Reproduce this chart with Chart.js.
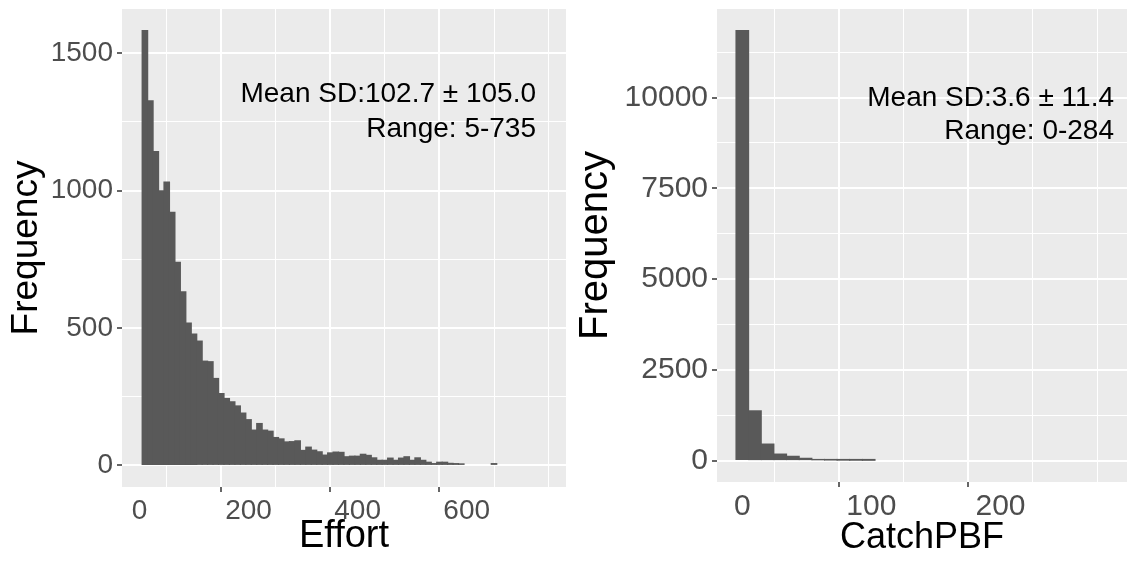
<!DOCTYPE html>
<html>
<head>
<meta charset="utf-8">
<script src="https://cdn.jsdelivr.net/npm/chart.js@4.4.1/dist/chart.umd.min.js"></script>
<style>
  html, body { margin: 0; padding: 0; background: #fff; overflow: hidden; width: 1127px; height: 565px; }
  #graficoEffort { position: absolute; left: 0; top: 0; }
  #graficoCatch { position: absolute; left: 560px; top: 0; }
</style>
</head>
<body>
<canvas id="graficoEffort" width="570" height="565"></canvas>
<canvas id="graficoCatch" width="567" height="565"></canvas>
<script>
// Effort: centros de cada barra (bins de 10, de 5 a 745)
const centrosEffort = [10, 20, 30, 40, 50, 60, 70, 80, 90, 100,
  110, 120, 130, 140, 150, 160, 170, 180, 190, 200,
  210, 220, 230, 240, 250, 260, 270, 280, 290, 300,
  310, 320, 330, 340, 350, 360, 370, 380, 390, 400,
  410, 420, 430, 440, 450, 460, 470, 480, 490, 500,
  510, 520, 530, 540, 550, 560, 570, 580, 590, 600,
  610, 620, 630, 640, 650, 660, 670, 680, 690, 700,
  710, 720, 730, 740];
// frecuencias (las barras invisibles quedan en 0)
const frecEffort = [1582, 1327, 1142, 999, 1031, 921, 739, 631, 518, 478,
  452, 379, 377, 316, 261, 243, 231, 216, 190, 166,
  128, 152, 128, 124, 101, 96, 85, 86, 89, 54,
  66, 55, 49, 37, 45, 48, 47, 31, 33, 33,
  40, 36, 27, 18, 18, 26, 18, 26, 31, 18,
  27, 18, 11, 6, 11, 11, 7, 6, 5, 0,
  0, 0, 0, 0, 6, 0, 0, 0, 0, 0,
  0, 0, 0, 0];

// CatchPBF: 30 bins entre 0 y 284
const centrosCatch = [0, 9.8, 19.6, 29.4, 39.2, 49, 58.8, 68.6, 78.3, 88.1,
  97.9, 107.7, 117.5, 127.3, 137.1, 146.9, 156.7, 166.5, 176.3, 186.1,
  195.9, 205.7, 215.4, 225.2, 235, 244.8, 254.6, 264.4, 274.2, 284];
const frecCatch = [11850, 1368, 452, 176, 115, 60, 22, 16, 12, 10,
  8, 0, 0, 0, 0, 0, 0, 0, 0, 0,
  0, 0, 0, 0, 0, 0, 0, 0, 0, 0];

// marcas de los ejes (mayores con etiqueta, menores solo rejilla)
const ticksXEffort = [0, 100, 200, 300, 400, 500, 600, 700];
const mayoresXEffort = [0, 200, 400, 600];
const ticksYEffort = [0, 250, 500, 750, 1000, 1250, 1500];
const mayoresYEffort = [0, 500, 1000, 1500];

const ticksXCatch = [0, 50, 100, 150, 200, 250];
const mayoresXCatch = [0, 100, 200];
const ticksYCatch = [0, 1250, 2500, 3750, 5000, 6250, 7500, 8750, 10000, 11250];
const mayoresYCatch = [0, 2500, 5000, 7500, 10000];

const textoEffort = ['Mean SD:102.7 ± 105.0', 'Range: 5-735'];
const textoCatch = ['Mean SD:3.6 ± 11.4', 'Range: 0-284'];

const fuente = '"Liberation Sans", Arial, sans-serif';

const panelGris = {
  id: 'panelGris',
  beforeDraw(chart) {
    const { ctx, chartArea: a } = chart;
    ctx.save();
    ctx.fillStyle = '#EBEBEB';
    ctx.fillRect(a.left, a.top, a.width, a.height);
    ctx.restore();
  },
  afterDraw(chart, args, opts) {
    const { ctx, chartArea: a } = chart;
    ctx.save();
    ctx.font = opts.tam + 'px ' + fuente;
    ctx.fillStyle = '#000';
    ctx.textAlign = 'right';
    ctx.textBaseline = 'middle';
    opts.lineas.forEach((t, i) => {
      ctx.fillText(t, a.right - opts.margen, a.top + opts.y0 + i * opts.dy);
    });
    ctx.restore();
  }
};

function esMayor(c, mayores) {
  return c.tick ? mayores.includes(c.tick.value) : false;
}

function ejeLineal(ticks, mayores, extra) {
  return Object.assign({
    type: 'linear',
    offset: false,
    afterBuildTicks: s => { s.ticks = ticks.map(v => ({ value: v })); },
    border: { display: false },
    grid: {
      color: '#FFFFFF',
      lineWidth: c => esMayor(c, mayores) ? 2 : 1,
      tickColor: c => esMayor(c, mayores) ? '#333333' : 'rgba(0,0,0,0)',
      tickWidth: 1.5,
      tickLength: 5
    }
  }, extra);
}

function sinRelleno(s) {
  s.paddingTop = 0;
  s.paddingBottom = 0;
  s.paddingLeft = 0;
  s.paddingRight = 0;
}

function histograma(id, centros, frec, cfg) {
  const ctx = document.getElementById(id).getContext('2d');
  return new Chart(ctx, {
    type: 'bar',
    data: {
      datasets: [{
        data: centros.map((c, i) => ({ x: c, y: frec[i] })),
        // las barras vacias no se pintan (si no, el inflado deja una raya)
        backgroundColor: c => (c.raw && c.raw.y > 0) ? '#595959' : 'rgba(0,0,0,0)',
        borderWidth: 0,
        inflateAmount: 0.6,
        barPercentage: 1,
        categoryPercentage: 1
      }]
    },
    options: {
      responsive: false,
      animation: false,
      devicePixelRatio: 1,
      layout: { padding: cfg.padding },
      plugins: {
        legend: { display: false },
        tooltip: { enabled: false },
        panelGris: cfg.texto
      },
      scales: {
        x: ejeLineal(cfg.ticksX, cfg.mayoresX, {
          min: cfg.xMin, max: cfg.xMax,
          afterFit: s => { s.height = cfg.altoX; sinRelleno(s); },
          ticks: {
            autoSkip: false, maxRotation: 0, padding: 2,
            color: '#4D4D4D', font: { family: fuente, size: cfg.tamTick },
            callback: v => cfg.mayoresX.includes(v) ? v : ''
          },
          title: {
            display: true, text: cfg.tituloX, color: '#000',
            font: { family: fuente, size: cfg.tamTituloX },
            padding: { top: 0, bottom: cfg.padTituloX }
          }
        }),
        y: ejeLineal(cfg.ticksY, cfg.mayoresY, {
          min: cfg.yMin, max: cfg.yMax,
          afterFit: s => { s.width = cfg.anchoY; sinRelleno(s); },
          ticks: {
            autoSkip: false, padding: 4,
            color: '#4D4D4D', font: { family: fuente, size: cfg.tamTick },
            callback: v => cfg.mayoresY.includes(v) ? v : ''
          },
          title: {
            display: true, text: 'Frequency', color: '#000',
            font: { family: fuente, size: cfg.tamTituloY },
            padding: { top: cfg.padTituloY, bottom: 0 }
          }
        })
      }
    },
    plugins: [panelGris]
  });
}

histograma('graficoEffort', centrosEffort, frecEffort, {
  padding: { top: 9, right: 4, left: 0, bottom: 0 },
  xMin: -32, xMax: 782, yMin: -79, yMax: 1661,
  ticksX: ticksXEffort, mayoresX: mayoresXEffort,
  ticksY: ticksYEffort, mayoresY: mayoresYEffort,
  altoX: 78, anchoY: 122,
  tamTick: 28, tamTituloX: 38, tamTituloY: 37,
  padTituloX: 6, padTituloY: 5,
  tituloX: 'Effort',
  texto: { lineas: textoEffort, tam: 28, margen: 30, y0: 85, dy: 35 }
});

histograma('graficoCatch', centrosCatch, frecCatch, {
  padding: { top: 9, right: 0, left: 0, bottom: 0 },
  xMin: -19.6, xMax: 298, yMin: -592, yMax: 12442,
  ticksX: ticksXCatch, mayoresX: mayoresXCatch,
  ticksY: ticksYCatch, mayoresY: mayoresYCatch,
  altoX: 83, anchoY: 157,
  tamTick: 30, tamTituloX: 36, tamTituloY: 40,
  padTituloX: 5, padTituloY: 12,
  tituloX: 'CatchPBF',
  texto: { lineas: textoCatch, tam: 28, margen: 13, y0: 89, dy: 33 }
});
</script>
</body>
</html>
